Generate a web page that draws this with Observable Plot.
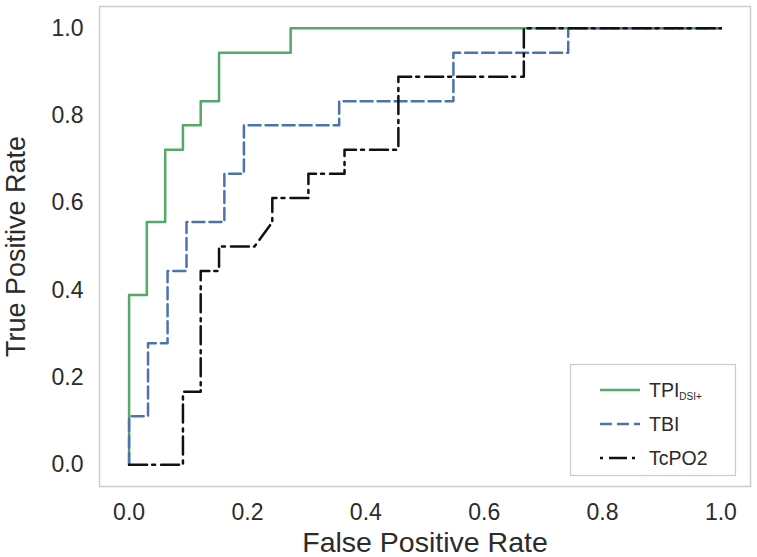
<!DOCTYPE html>
<html>
<head>
<meta charset="utf-8">
<script src="https://cdn.jsdelivr.net/npm/d3@7"></script>
<script src="https://cdn.jsdelivr.net/npm/@observablehq/plot@0.6"></script>
<style>
  html, body { margin: 0; padding: 0; background: #fff; }
  #chart { width: 757px; height: 557px; }
</style>
</head>
<body>
<div id="chart"></div>
<script>
// ---- data ----
const seriesNames = ["TPI", "TBI", "TcPO2"];
const seriesColors = ["#55a868", "#4c72b0", "#111111"];

const tpiFpr = [0, 0, 0.03, 0.03, 0.061, 0.061, 0.091, 0.091, 0.121, 0.121, 0.152, 0.152, 0.273, 0.273, 1.0];
const tpiTpr = [0, 0.389, 0.389, 0.556, 0.556, 0.722, 0.722, 0.778, 0.778, 0.833, 0.833, 0.944, 0.944, 1.0, 1.0];

const tbiFpr = [0, 0, 0.032, 0.032, 0.065, 0.065, 0.097, 0.097, 0.161, 0.161, 0.194, 0.194, 0.355, 0.355, 0.548, 0.548, 0.742, 0.742, 1.0];
const tbiTpr = [0, 0.111, 0.111, 0.278, 0.278, 0.444, 0.444, 0.556, 0.556, 0.667, 0.667, 0.778, 0.778, 0.833, 0.833, 0.944, 0.944, 1.0, 1.0];

const tcpo2Fpr = [0, 0.091, 0.091, 0.121, 0.121, 0.152, 0.152, 0.212, 0.242, 0.242, 0.303, 0.303, 0.364, 0.364, 0.455, 0.455, 0.667, 0.667, 1.0];
const tcpo2Tpr = [0, 0, 0.167, 0.167, 0.444, 0.444, 0.5, 0.5, 0.556, 0.611, 0.611, 0.667, 0.667, 0.722, 0.722, 0.889, 0.889, 1.0, 1.0];

const xTicks = [0, 0.2, 0.4, 0.6, 0.8, 1.0];
const yTicks = [0, 0.2, 0.4, 0.6, 0.8, 1.0];
const xTitle = "False Positive Rate";
const yTitle = "True Positive Rate";

// ---- build tables ----
function toRows(fpr, tpr, name) { return fpr.map((f, i) => ({ series: name, fpr: f, tpr: tpr[i] })); }
const tpiRows = toRows(tpiFpr, tpiTpr, seriesNames[0]);
const tbiRows = toRows(tbiFpr, tbiTpr, seriesNames[1]);
const tcpo2Rows = toRows(tcpo2Fpr, tcpo2Tpr, seriesNames[2]);

const dashes = ["none", "12,5", "18,5,3,6"];
const textColor = "#2b2b2b";
const font = "Arial, 'Liberation Sans', Helvetica, sans-serif";

const plot = Plot.plot({
  width: 757,
  height: 557,
  marginLeft: 99,
  marginRight: 7,
  marginTop: 6,
  marginBottom: 71,
  style: { fontFamily: font, color: textColor, background: "#ffffff", overflow: "visible" },
  x: { domain: [-0.05, 1.05] },
  y: { domain: [-0.05, 1.05] },
  marks: [
    Plot.frame({ stroke: "#cccccc", strokeWidth: 1.5 }),
    Plot.axisX({ ticks: xTicks, tickSize: 0, tickPadding: 17, tickFormat: d3.format(".1f"), fontSize: 23, label: null, fill: textColor }),
    Plot.axisY({ ticks: yTicks, tickSize: 0, tickPadding: 16, tickFormat: d3.format(".1f"), fontSize: 23, label: null, fill: textColor }),
    Plot.text([xTitle], { frameAnchor: "bottom", textAnchor: "middle", lineAnchor: "middle", dy: 56, fontSize: 28.5, fill: textColor }),
    Plot.text([yTitle], { frameAnchor: "left", textAnchor: "middle", lineAnchor: "middle", rotate: -90, dx: -83, fontSize: 27, fill: textColor }),
    Plot.line(tpiRows, { x: "fpr", y: "tpr", stroke: seriesColors[0], strokeWidth: 2.5, curve: "linear" }),
    Plot.line(tbiRows, { x: "fpr", y: "tpr", stroke: seriesColors[1], strokeWidth: 2.5, strokeDasharray: dashes[1], curve: "linear" }),
    Plot.line(tcpo2Rows, { x: "fpr", y: "tpr", stroke: seriesColors[2], strokeWidth: 2.5, strokeDasharray: dashes[2], curve: "linear" })
  ]
});

document.getElementById("chart").appendChild(plot);

// ---- legend (inside the plot, lower right) ----
const svg = d3.select(plot);
const lg = svg.append("g").attr("font-family", font).attr("text-anchor", "start");
lg.append("rect")
  .attr("x", 570.5).attr("y", 364.5).attr("width", 165).attr("height", 111)
  .attr("fill", "#ffffff").attr("stroke", "#cccccc").attr("stroke-width", 1.25);
const rowY = [390, 424, 458];
seriesNames.forEach((name, i) => {
  const y = rowY[i];
  lg.append("line")
    .attr("x1", 600).attr("x2", 640).attr("y1", y).attr("y2", y)
    .attr("stroke", seriesColors[i]).attr("stroke-width", 2.5)
    .attr("stroke-dasharray", dashes[i])
    .attr("stroke-dashoffset", i === 2 ? 23 : 0);
  const t = lg.append("text")
    .attr("x", 649).attr("y", y).attr("dy", "0.36em")
    .attr("font-size", 19.5).attr("fill", textColor)
    .text(name);
  if (i === 0) {
    t.append("tspan").attr("font-size", 10).attr("dy", "0.3em").text("DSI+");
  }
});
</script>
</body>
</html>
